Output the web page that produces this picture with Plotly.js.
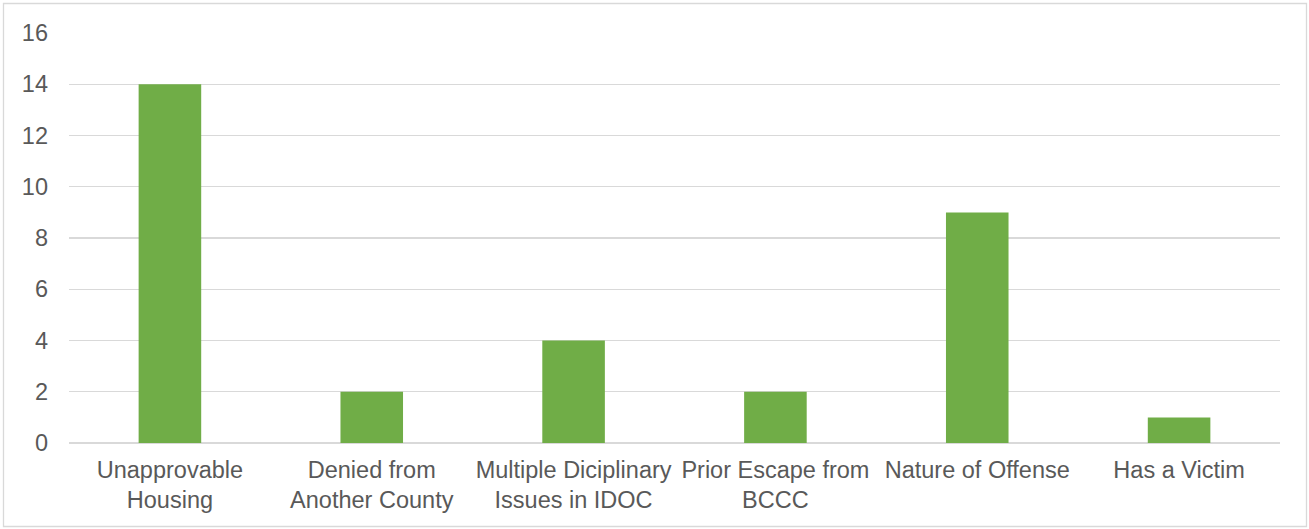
<!DOCTYPE html>
<html>
<head>
<meta charset="utf-8">
<script src="https://cdn.plot.ly/plotly-3.0.1.min.js"></script>
<style>
  html, body { margin: 0; padding: 0; background: #ffffff; }
  #chart { width: 1309px; height: 529px; }
</style>
</head>
<body>
<div id="chart"></div>
<script>
// Reasons for denial and their counts
const categories = [
  "Unapprovable<br>Housing",
  "Denied from<br>Another County",
  "Multiple Diciplinary<br>Issues in IDOC",
  "Prior Escape from<br>BCCC",
  "Nature of Offense",
  "Has a Victim"
];
const counts = [14, 2, 4, 2, 9, 1];
const yTicks = [0, 2, 4, 6, 8, 10, 12, 14, 16];

const textColor = "#595959";
const gridColor = "#D9D9D9";

const trace = {
  type: "bar",
  x: categories,
  y: counts,
  marker: { color: "#70AD47" },
  hoverinfo: "x+y"
};

// Plot area spans pixels 69..1280 horizontally and 33..443 vertically
const plotL = 69, plotR = 1280, plotT = 33, plotB = 443;
const pw = plotR - plotL, ph = plotB - plotT;
const px = v => (v - plotL) / pw;
const py = v => (plotB - v) / ph;

const layout = {
  width: 1309,
  height: 529,
  margin: { l: plotL, r: 1309 - plotR, t: plotT, b: 529 - plotB, pad: 0 },
  paper_bgcolor: "#ffffff",
  plot_bgcolor: "#ffffff",
  font: { family: "Liberation Sans, Arial, sans-serif", size: 23.5, color: textColor },
  showlegend: false,
  bargap: 0.69,
  xaxis: {
    type: "category",
    showgrid: false,
    showline: false,
    zeroline: false,
    ticks: "",
    tickangle: 0,
    ticklabelstandoff: 10,
    tickfont: { size: 23.5, color: textColor }
  },
  yaxis: {
    range: [0, 16],
    tickvals: yTicks,
    ticktext: yTicks.map(String),
    showgrid: true,
    gridcolor: gridColor,
    gridwidth: 1.3,
    zeroline: true,
    zerolinecolor: gridColor,
    zerolinewidth: 1.3,
    showline: false,
    ticks: "",
    ticklabelstandoff: 20,
    tickfont: { size: 23.5, color: textColor },
    fixedrange: true
  },
  shapes: [{
    type: "rect",
    xref: "paper", yref: "paper",
    x0: px(3.5), x1: px(1306.5),
    y0: py(526.5), y1: py(3.5),
    line: { color: "#D9D9D9", width: 1.3 },
    fillcolor: "rgba(0,0,0,0)",
    layer: "below"
  }]
};

Plotly.newPlot("chart", [trace], layout, { displayModeBar: false, staticPlot: true });
</script>
</body>
</html>
